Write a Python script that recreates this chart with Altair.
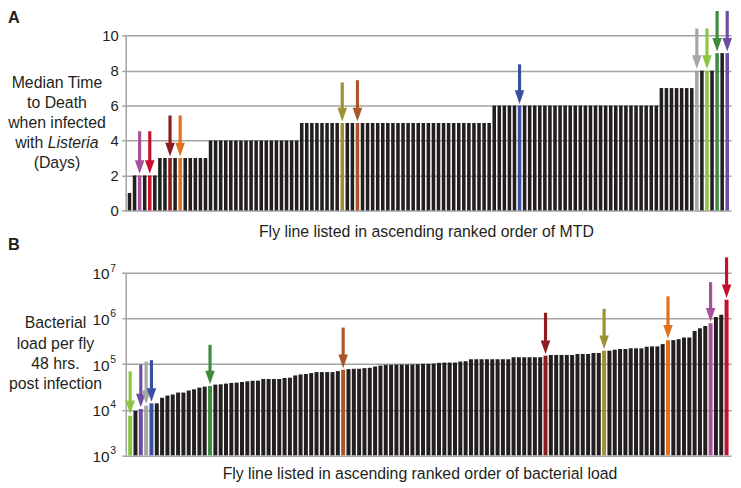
import altair as alt
import pandas as pd

FONT = "Liberation Sans"
INK = "#231f20"
GRID = "#a3a3a3"

MAGENTA = "#a7519c"; RED = "#c8102e"; DARKRED = "#8c1c20"; ORANGE = "#e0701f"
OLIVE = "#9f9133"; BROWN = "#a9572a"; BLUE = "#3b4fa0"; GRAY = "#a6a6a6"
LIGHTGREEN = "#8cc63f"; GREEN = "#3f8c3f"; PURPLE = "#6b4ea0"

# ---------------- Panel A : median time to death (days), ranked ----------------
mtd_days = [
    1,
    2, 2, 2, 2, 2,
    3, 3, 3, 3, 3, 3, 3, 3, 3, 3,
    4, 4, 4, 4, 4, 4, 4, 4, 4, 4, 4, 4, 4, 4, 4, 4, 4, 4,
    5, 5, 5, 5, 5, 5, 5, 5, 5, 5, 5, 5, 5, 5, 5, 5, 5, 5, 5, 5,
    5, 5, 5, 5, 5, 5, 5, 5, 5, 5, 5, 5, 5, 5, 5, 5, 5, 5,
    6, 6, 6, 6, 6, 6, 6, 6, 6, 6, 6, 6, 6, 6, 6, 6, 6,
    6, 6, 6, 6, 6, 6, 6, 6, 6, 6, 6, 6, 6, 6, 6, 6,
    7, 7, 7, 7, 7, 7, 7,
    8, 8, 8, 8,
    9, 9, 9,
]
mtd_hi_idx = [2, 4, 8, 10, 42, 45, 77, 112, 114, 116, 118]
mtd_hi_color = [MAGENTA, RED, DARKRED, ORANGE, OLIVE, BROWN, BLUE, GRAY, LIGHTGREEN, GREEN, PURPLE]
mtd_arrow_top = [4.53, 4.53, 5.43, 5.43, 7.32, 7.45, 8.36, 10.41, 10.41, 11.41, 11.41]
mtd_ticks = [0, 2, 4, 6, 8, 10]

# ---------------- Panel B : bacterial load per fly, ranked ----------------
load_per_fly = [
    7400, 9400, 10400, 12300, 13800, 13800, 18300, 20500, 21600, 23800,
    23800, 26400, 28100, 30600, 32200, 33300, 35600, 36100, 37400, 38700,
    39300, 40600, 42000, 43500, 43500, 47300, 47300, 47300, 47300, 49700,
    50500, 56600, 59400, 60700, 63800, 67000, 67000, 67000, 67000, 70500,
    75200, 77800, 79100, 79100, 81800, 83200, 88900, 93300, 96600, 96600,
    98200, 98200, 98200, 98200, 100000, 101600, 101600, 103300, 106700, 108400,
    108400, 108400, 114000, 116100,
    128200, 128200, 128200, 128200, 128200, 128200, 128200, 128200,
    141900, 141900, 141900, 141900, 141900, 141900,
    153800, 159200, 159200, 159200, 159200, 159200, 167100, 167100, 167100,
    175800, 175800, 197700, 197700, 207500, 214800, 214800,
    222300, 222300, 222300, 241000, 245500, 245500,
    275400, 336500, 336500, 354000, 384600, 384600, 535800, 612400, 687100,
    787000, 1079000, 1216000, 2606000,
]
load_hi_idx = [0, 2, 3, 4, 15, 40, 78, 89, 101, 109, 112]
load_hi_color = [LIGHTGREEN, PURPLE, GRAY, BLUE, GREEN, BROWN, DARKRED, OLIVE, ORANGE, MAGENTA, RED]
load_arrow_top = [69200, 98000, 113800, 122200, 266100, 635300, 1343000, 1641000,
                  3076000, 6310000, 22030000]
load_ticks = [1000, 10000, 100000, 1000000, 10000000]
load_tick_base = ["10", "10", "10", "10", "10"]
load_tick_exp = ["3", "4", "5", "6", "7"]

# ---------------- tables ----------------
colA = [INK] * len(mtd_days)
for i, c in zip(mtd_hi_idx, mtd_hi_color):
    colA[i] = c
dfA = pd.DataFrame({"line": list(range(len(mtd_days))), "mtd": mtd_days, "color": colA})
arrA = pd.DataFrame({"line": mtd_hi_idx, "top": mtd_arrow_top,
                     "mtd": [mtd_days[i] for i in mtd_hi_idx], "color": mtd_hi_color})

colB = [INK] * len(load_per_fly)
for i, c in zip(load_hi_idx, load_hi_color):
    colB[i] = c
dfB = pd.DataFrame({"line": list(range(len(load_per_fly))), "load": load_per_fly, "color": colB})
arrB = pd.DataFrame({"line": load_hi_idx, "top": load_arrow_top,
                     "load": [load_per_fly[i] for i in load_hi_idx], "color": load_hi_color})
tickB = pd.DataFrame({"load": load_ticks, "base": load_tick_base, "exp": load_tick_exp})

ARROW = "M-0.7,-1L0.7,-1L0,1Z"
W = 612

def axis_common(**kw):
    return alt.Axis(orient="left", title=None, grid=True, gridColor=GRID, gridWidth=1.5,
                    domainColor=GRID, domainWidth=1.5, tickColor=GRID, tickWidth=1.5,
                    tickSize=4, labelFont=FONT, labelFontSize=15, labelColor=INK, **kw)

axA = axis_common(values=mtd_ticks, labelPadding=3.5)
axB = axis_common(values=load_ticks, labels=False)

# Panel A layer
xA = alt.X("line:O", axis=None,
           scale=alt.Scale(domain=list(range(len(mtd_days))), paddingInner=0.3, paddingOuter=0.4))
ysA = alt.Scale(domain=[0, 10], range=[202, 25.3], nice=False)
barsA = alt.Chart(dfA).mark_bar().encode(
    x=xA,
    y=alt.Y("mtd:Q", scale=ysA, axis=axA),
    color=alt.Color("color:N", scale=None),
)
rulesA = alt.Chart(arrA).mark_rule(strokeWidth=3.2, y2Offset=-12).encode(
    x=xA, y=alt.Y("top:Q", scale=ysA, axis=axA), y2="mtd:Q",
    color=alt.Color("color:N", scale=None),
)
headsA = alt.Chart(arrA).mark_point(shape=ARROW, size=190, filled=True, opacity=1,
                                    strokeWidth=0, yOffset=-8.5).encode(
    x=xA, y=alt.Y("mtd:Q", scale=ysA, axis=axA),
    color=alt.Color("color:N", scale=None),
)
layerA = alt.layer(barsA, rulesA, headsA)

# Panel B layer
xB = alt.X("line:O", axis=None,
           scale=alt.Scale(domain=list(range(len(load_per_fly))), paddingInner=0.25, paddingOuter=0.46))
ysB = alt.Scale(type="log", domain=[1000, 10000000], range=[449.6, 265.3], nice=False)
barsB = alt.Chart(dfB).mark_bar().encode(
    x=xB,
    y=alt.Y("load:Q", scale=ysB, axis=axB),
    y2=alt.datum(1000),
    color=alt.Color("color:N", scale=None),
)
rulesB = alt.Chart(arrB).mark_rule(strokeWidth=3.2, y2Offset=-12).encode(
    x=xB, y=alt.Y("top:Q", scale=ysB, axis=axB), y2="load:Q",
    color=alt.Color("color:N", scale=None),
)
headsB = alt.Chart(arrB).mark_point(shape=ARROW, size=190, filled=True, opacity=1,
                                    strokeWidth=0, yOffset=-8.5).encode(
    x=xB, y=alt.Y("load:Q", scale=ysB, axis=axB),
    color=alt.Color("color:N", scale=None),
)
tickBase = alt.Chart(tickB).mark_text(font=FONT, fontSize=15.5, align="right",
                                      baseline="middle", color=INK, yOffset=1.5).encode(
    x=alt.value(-16.3), y=alt.Y("load:Q", scale=ysB, axis=axB), text="base:N",
)
tickExp = alt.Chart(tickB).mark_text(font=FONT, fontSize=10.5, align="left",
                                     baseline="middle", color=INK, yOffset=-4.5).encode(
    x=alt.value(-15.6), y=alt.Y("load:Q", scale=ysB, axis=axB), text="exp:N",
)
layerB = alt.layer(barsB, rulesB, headsB, tickBase, tickExp)

# Text labels
one = pd.DataFrame({"d": [0]})

def label(text, x, y, size=16, weight="normal", style="normal", align="center", baseline="middle"):
    return alt.Chart(one).mark_text(
        text=text, font=FONT, fontSize=size, fontWeight=weight, fontStyle=style,
        align=align, baseline=baseline, color=INK,
    ).encode(x=alt.value(x), y=alt.value(y))

labels = [
    label("A", -119, 13, size=16.5, weight="bold", align="left", baseline="alphabetic"),
    label("B", -119, 242, size=16.5, weight="bold", align="left", baseline="alphabetic"),
    label("Median Time", -69.5, 73),
    label("to Death", -69.5, 93.7),
    label("when infected", -69.5, 113.7),
    label("with", -83.3, 133.7, align="right"),
    label("Listeria", -78.9, 133.7, style="italic", align="left"),
    label("(Days)", -69.5, 154.3),
    label("Fly line listed in ascending ranked order of MTD", 304, 224),
    label("Bacterial", -71, 316.3),
    label("load per fly", -71, 337),
    label("48 hrs.", -71, 357),
    label("post infection", -71, 377.7),
    label("Fly line listed in ascending ranked order of bacterial load", 297.5, 468.5),
]

chart = (
    alt.layer(layerA, layerB, *labels)
    .resolve_scale(x="independent", y="independent")
    .properties(width=W, height=450, background="white",
                autosize=alt.AutoSizeParams(type="none"),
                padding={"left": 119, "top": 0, "right": 2, "bottom": 28})
    .configure_view(stroke=None)
)

chart.save("out.html", embed_options={"renderer": "svg", "actions": False})
